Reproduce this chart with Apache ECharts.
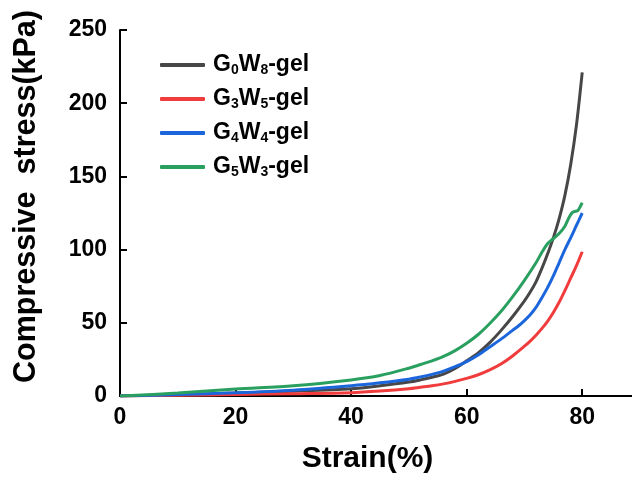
<!DOCTYPE html>
<html>
<head>
<meta charset="utf-8">
<script src="https://cdn.jsdelivr.net/npm/echarts@6/dist/echarts.min.js"></script>
<style>html,body{margin:0;padding:0;background:#fff;}#c{width:632px;height:484px;}</style>
</head>
<body>
<div id="c"></div>
<script>
const seriesNames = ['G0W8-gel', 'G3W5-gel', 'G4W4-gel', 'G5W3-gel'];
const xTicks = [0, 20, 40, 60, 80];
const yTicks = [0, 50, 100, 150, 200, 250];

const g0w8 = [[0,0],[10,0.8],[20,2],[30,3.3],[40,5],[45,7],[50,9.5],[52,11],[54,12.8],[56,15],[58,18.8],[60,24],[62,29.5],[64,36.5],[66,45],[68,54.5],[70,65],[71,71],[72,78],[73,87],[74,97],[75,108],[76,121],[77,137],[78,158],[79,185],[80,221]];
const g3w5 = [[0,0],[10,0.5],[20,1],[30,1.6],[40,2.3],[45,3.4],[50,5],[52,6],[54,7],[56,8.3],[58,10],[60,12],[62,14.5],[64,17.8],[66,22],[68,27.5],[70,34],[71,37.5],[72,41.5],[73,46],[74,51],[75,57],[76,64],[77,72],[78,80.5],[79,89],[80,98.5]];
const g4w4 = [[0,0],[10,1],[20,2.2],[30,4],[40,7],[45,9],[50,11.5],[52,13],[54,14.8],[56,17],[58,20],[60,23.5],[62,28],[64,33.5],[66,39],[68,45],[69,48],[70,51.5],[71,55.5],[72,60.5],[73,67],[74,74],[75,82],[76,91],[77,100],[78,108],[79,116.5],[80,125]];
const g5w3 = [[0,0],[10,2],[20,4.8],[30,7],[40,11],[45,14],[50,19],[52,21.5],[54,24],[56,27],[58,31],[60,36],[62,42],[64,49.5],[66,58],[68,68],[70,79],[72,91],[73,98],[74,104],[75,107.5],[76,111],[77,116],[77.6,121],[78.2,125],[78.6,126],[79.2,126.5],[79.6,129],[80,132]];

const colors = ['#474747', '#f03c3c', '#1c66dc', '#2aa060'];
const dataSets = [g0w8, g3w5, g4w4, g5w3];

function legendLabel(name) {
  const m = name.match(/^G(\d)W(\d)-gel$/);
  return '{b|G}{s|' + m[1] + '}{b|W}{s|' + m[2] + '}{b|-gel}';
}

const chart = echarts.init(document.getElementById('c'));
const font = 'Liberation Sans, Arial, sans-serif';
chart.setOption({
  animation: false,
  backgroundColor: '#fff',
  grid: { left: 120, top: 30, bottom: 88, right: -8, containLabel: false, outerBoundsMode: 'none' },
  legend: {
    orient: 'vertical',
    left: 155, top: 48,
    itemWidth: 45, itemHeight: 4, itemGap: 10,
    icon: 'roundRect',
    data: seriesNames.map((n, i) => ({ name: n, itemStyle: { color: colors[i] } })),
    formatter: legendLabel,
    textStyle: {
      padding: [0, 0, 0, 3],
      rich: {
        b: { fontFamily: font, fontWeight: 'bold', fontSize: 23, color: '#000', lineHeight: 24 },
        s: { fontFamily: font, fontWeight: 'bold', fontSize: 14, color: '#000', lineHeight: 24, verticalAlign: 'bottom', padding: [10, 0, 0, 0] }
      }
    }
  },
  xAxis: {
    type: 'value', min: 0, max: 90, interval: 20,
    name: 'Strain(%)', nameLocation: 'middle', nameGap: 48,
    nameTextStyle: { fontFamily: font, fontWeight: 'bold', fontSize: 30, color: '#000', padding: [0, 25, 0, 0] },
    axisLine: { lineStyle: { color: '#000', width: 2 } },
    axisTick: { inside: true, length: 7, lineStyle: { color: '#000', width: 2 } },
    axisLabel: { fontFamily: font, fontWeight: 'bold', fontSize: 23, color: '#000', margin: 10,
      formatter: v => xTicks.indexOf(v) >= 0 ? String(v) : '' },
    splitLine: { show: false }
  },
  yAxis: {
    type: 'value', min: 0, max: 250, interval: 50,
    name: 'Compressive  stress(kPa)', nameLocation: 'middle', nameGap: 78,
    nameTextStyle: { fontFamily: font, fontWeight: 'bold', fontSize: 30.5, color: '#000', padding: [0, 0, 0, 33] },
    axisLine: { show: true, lineStyle: { color: '#000', width: 2 } },
    axisTick: { show: true, inside: true, length: 7, lineStyle: { color: '#000', width: 2 } },
    axisLabel: { fontFamily: font, fontWeight: 'bold', fontSize: 23, color: '#000', margin: 13,
      formatter: v => yTicks.indexOf(v) >= 0 ? String(v) : '' },
    splitLine: { show: false }
  },
  series: seriesNames.map((n, i) => ({
    name: n, type: 'line', data: dataSets[i], smooth: 0.3,
    symbol: 'none', lineStyle: { color: colors[i], width: 3 }, itemStyle: { color: colors[i] }
  }))
});
</script>
</body>
</html>
